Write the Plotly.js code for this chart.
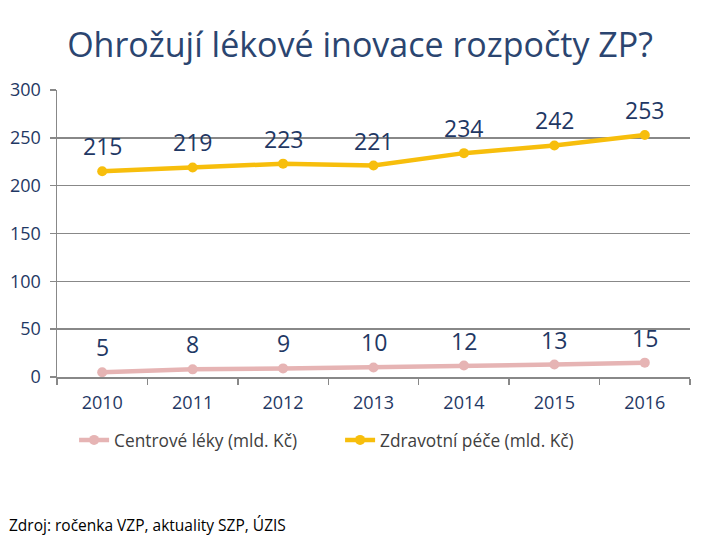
<!DOCTYPE html>
<html>
<head>
<meta charset="utf-8">
<script src="https://cdn.plot.ly/plotly-3.0.1.min.js"></script>
<style>html,body{margin:0;padding:0;background:#fff}#chart{width:720px;height:540px}</style>
</head>
<body>
<div id="chart"></div>
<script>
const years = ["2010","2011","2012","2013","2014","2015","2016"];
const centrove = [5, 8, 9, 10, 12, 13, 15];
const zdravotni = [215, 219, 223, 221, 234, 242, 253];
const seriesNames = ["Centrové léky (mld. Kč)", "Zdravotní péče (mld. Kč)"];
const yTicks = [0, 50, 100, 150, 200, 250, 300];

const idx = years.map((_, i) => i);
const navy = "#1F3864";
const pink = "#E6B4B4";
const gold = "#F7BE0C";

const traces = [
  {x: idx, y: centrove, name: seriesNames[0], type: "scatter", mode: "lines+markers",
   line: {color: pink, width: 4.5}, marker: {color: pink, size: 10}},
  {x: idx, y: zdravotni, name: seriesNames[1], type: "scatter", mode: "lines+markers",
   line: {color: gold, width: 4.5}, marker: {color: gold, size: 10}}
];

const annotations = [];
[centrove, zdravotni].forEach(arr => arr.forEach((v, i) => {
  annotations.push({x: i, y: v, xref: "x", yref: "y", text: String(v), showarrow: false,
    yshift: 25, font: {family: "Open Sans, sans-serif", size: 23, color: navy}});
}));
annotations.push({xref: "paper", yref: "paper", x: -0.079, y: -0.516, xanchor: "left", yanchor: "middle",
  text: "Zdroj: ročenka VZP, aktuality SZP, ÚZIS", showarrow: false,
  font: {family: "Open Sans, sans-serif", size: 15.5, color: "#000"}});

const layout = {
  width: 720, height: 540,
  margin: {l: 57, r: 30, t: 90, b: 163},
  paper_bgcolor: "#fff", plot_bgcolor: "#fff",
  title: {text: "Ohrožují lékové inovace rozpočty ZP?", x: 0.5, xref: "container", xanchor: "center",
    y: 0.917, yref: "container", yanchor: "middle",
    font: {family: "Open Sans, sans-serif", size: 34, color: "#2B4570"}},
  xaxis: {range: [-0.5, 6.5], tickmode: "array", tickvals: idx, ticktext: years, ticks: "",
    showgrid: false, zeroline: false, showline: true, linecolor: "#888", linewidth: 1.5,
    ticklabelstandoff: 9,
    tickfont: {family: "Open Sans, sans-serif", size: 18, color: navy},
    minor: {tick0: -0.5, dtick: 1, ticks: "outside", ticklen: 6, tickcolor: "#888", tickwidth: 1.5, showgrid: false}},
  yaxis: {range: [0, 300], tickmode: "array", tickvals: yTicks, ticks: "outside", ticklen: 6,
    tickcolor: "#888", tickwidth: 1.5, showgrid: true, gridcolor: "#888", gridwidth: 1.5,
    zeroline: false, showline: true, linecolor: "#888", linewidth: 1.5,
    ticklabelstandoff: 5,
    tickfont: {family: "Open Sans, sans-serif", size: 18, color: navy}},
  showlegend: true,
  legend: {orientation: "h", x: 0.027, y: -0.22, xanchor: "left", yanchor: "middle",
    entrywidth: 221, entrywidthmode: "pixels", itemwidth: 30,
    font: {family: "Open Sans, sans-serif", size: 17.3, color: "#404040"}},
  annotations: annotations
};

Plotly.newPlot("chart", traces, layout, {displayModeBar: false, staticPlot: true});
</script>
</body>
</html>
